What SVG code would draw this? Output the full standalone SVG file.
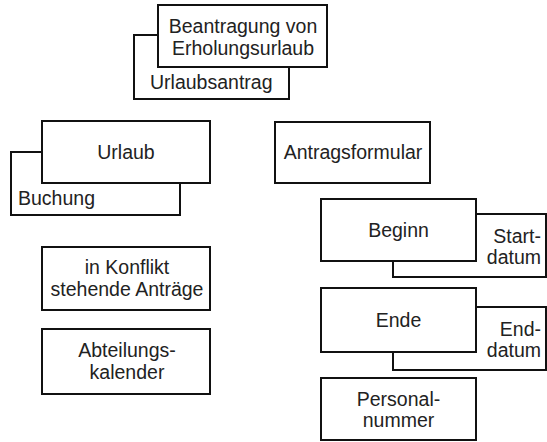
<svg xmlns="http://www.w3.org/2000/svg" width="547" height="442" viewBox="0 0 547 442">
<style>
.box{fill:#fff;stroke:#111;stroke-width:2}
.t{font-family:"Liberation Sans",Arial,Helvetica,sans-serif;font-size:19.5px;fill:#222}
.c{text-anchor:middle}
.r{text-anchor:end}
</style>
<rect width="547" height="442" fill="#fff"/>
<g id="connectors"/>
<g id="urlaubsantrag">
<rect class="box" x="134" y="35" width="155" height="64"/>
<text class="t" x="150" y="89">Urlaubsantrag</text>
</g>
<g id="beantragung">
<rect class="box" x="158" y="5" width="169" height="62"/>
<text class="t c" x="243" y="33">Beantragung von</text>
<text class="t c" x="243" y="55">Erholungsurlaub</text>
</g>
<g id="buchung">
<rect class="box" x="11" y="152" width="169" height="63"/>
<text class="t" x="18" y="205">Buchung</text>
</g>
<g id="urlaub">
<rect class="box" x="42" y="121" width="168" height="62"/>
<text class="t c" x="126" y="159">Urlaub</text>
</g>
<g id="antragsformular">
<rect class="box" x="275" y="122" width="155" height="61"/>
<text class="t c" x="353" y="159">Antragsformular</text>
</g>
<g id="startdatum">
<rect class="box" x="393" y="214" width="153" height="63"/>
<text class="t r" x="541" y="243">Start-</text>
<text class="t r" x="541" y="264">datum</text>
</g>
<g id="beginn">
<rect class="box" x="321" y="199" width="155" height="62"/>
<text class="t c" x="398.5" y="237">Beginn</text>
</g>
<g id="enddatum">
<rect class="box" x="393" y="307" width="153" height="63"/>
<text class="t r" x="541" y="336">End-</text>
<text class="t r" x="541" y="357">datum</text>
</g>
<g id="ende">
<rect class="box" x="321" y="288" width="155" height="64"/>
<text class="t c" x="398.5" y="327">Ende</text>
</g>
<g id="personalnummer">
<rect class="box" x="321" y="378" width="155" height="62"/>
<text class="t c" x="398.5" y="405.5">Personal-</text>
<text class="t c" x="398.5" y="427">nummer</text>
</g>
<g id="konflikt">
<rect class="box" x="42" y="247" width="168" height="63"/>
<text class="t c" x="127" y="274">in Konflikt</text>
<text class="t c" x="127" y="296">stehende Anträge</text>
</g>
<g id="abteilungskalender">
<rect class="box" x="42" y="329" width="168" height="65"/>
<text class="t c" x="127" y="357">Abteilungs-</text>
<text class="t c" x="127" y="379">kalender</text>
</g>
</svg>
